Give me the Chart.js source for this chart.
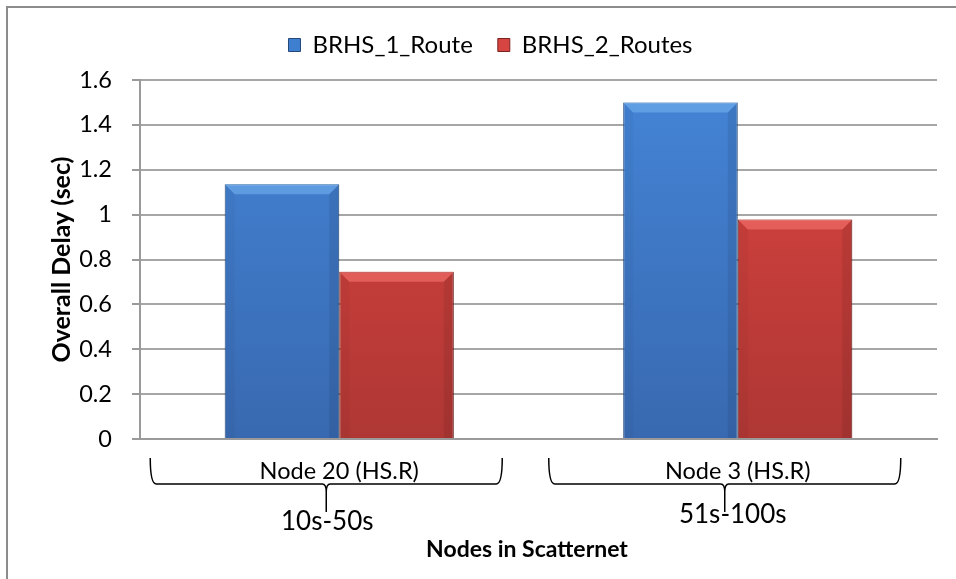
<!DOCTYPE html>
<html>
<head>
<meta charset="utf-8">
<script src="https://cdn.jsdelivr.net/npm/chart.js@4.4.1/dist/chart.umd.min.js"></script>
<style>
html,body{margin:0;padding:0;background:#fff;}
#wrap{width:956px;height:579px;position:relative;}
</style>
</head>
<body>
<div id="wrap"><canvas id="c" width="956" height="579"></canvas></div>
<script>
const categories = ["Node 20 (HS.R)", "Node 3 (HS.R)"];
const timeRanges = ["10s-50s", "51s-100s"];
const seriesNames = ["BRHS_1_Route", "BRHS_2_Routes"];
const route1 = [1.135, 1.50];
const route2 = [0.745, 0.978];
const yTicks = [0, 0.2, 0.4, 0.6, 0.8, 1, 1.2, 1.4, 1.6];
const xTitle = "Nodes in Scatternet";
const yTitle = "Overall Delay (sec)";

const FONT = "Lato, 'Open Sans', sans-serif";

function grad(ctx, chartArea, c1, c2) {
  const g = ctx.createLinearGradient(0, chartArea.top, 0, chartArea.bottom);
  g.addColorStop(0, c1);
  g.addColorStop(1, c2);
  return g;
}

const legendShift = {
  id: 'legendShift',
  beforeLayout(chart) {
    const lg = chart.legend;
    if (lg && !lg._patched) {
      const f = lg.fit.bind(lg);
      lg.fit = function () { f(); this.height += 13; };
      lg._patched = true;
    }
  },
  afterLayout(chart) {
    const lg = chart.legend;
    if (lg) { lg.left += 22; lg.right += 22; }
  }
};

const bevelPlugin = {
  id: 'bevel',
  afterDatasetsDraw(chart) {
    const ctx = chart.ctx;
    ctx.save();
    chart.data.datasets.forEach((d, di) => {
      const meta = chart.getDatasetMeta(di);
      meta.data.forEach((bar) => {
        const w = bar.width, L = bar.x - w / 2, R = bar.x + w / 2, T = bar.y, B = bar.base;
        const b = 10;
        ctx.fillStyle = di === 0 ? 'rgba(125,185,245,0.5)' : 'rgba(255,125,120,0.5)';
        ctx.beginPath();
        ctx.moveTo(L, T); ctx.lineTo(R, T); ctx.lineTo(R - b, T + b); ctx.lineTo(L + b, T + b); ctx.closePath();
        ctx.fill();
        ctx.fillStyle = 'rgba(0,0,0,0.03)';
        ctx.beginPath();
        ctx.moveTo(L, T); ctx.lineTo(L + b, T + b); ctx.lineTo(L + b, B); ctx.lineTo(L, B); ctx.closePath();
        ctx.fill();
        ctx.fillStyle = 'rgba(0,0,0,0.08)';
        ctx.beginPath();
        ctx.moveTo(R, T); ctx.lineTo(R - b, T + b); ctx.lineTo(R - b, B); ctx.lineTo(R, B); ctx.closePath();
        ctx.fill();
      });
    });
    ctx.restore();
  }
};

const bracePlugin = {
  id: 'braces',
  afterDraw(chart) {
    const ctx = chart.ctx;
    const xs = chart.scales.x;
    ctx.save();
    ctx.strokeStyle = '#8c8c8c';
    ctx.lineWidth = 2;
    ctx.beginPath();
    ctx.moveTo(7, 600);
    ctx.lineTo(7, 7);
    ctx.lineTo(1000, 7);
    ctx.stroke();

    ctx.strokeStyle = '#000';
    ctx.lineWidth = 1.5;
    categories.forEach((c, i) => {
      const cx = xs.getPixelForValue(i) - 13;
      const half = 176;
      const L = cx - half, R = cx + half;
      const top = 458, bot = 484, stem = 512;
      ctx.beginPath();
      ctx.moveTo(L, top);
      ctx.quadraticCurveTo(L, bot, L + 6, bot);
      ctx.lineTo(cx - 4, bot);
      ctx.quadraticCurveTo(cx, bot, cx, bot + 8);
      ctx.lineTo(cx, stem);
      ctx.moveTo(cx, bot + 8);
      ctx.quadraticCurveTo(cx, bot, cx + 4, bot);
      ctx.lineTo(R - 6, bot);
      ctx.quadraticCurveTo(R, bot, R, top);
      ctx.stroke();
      ctx.fillStyle = '#000';
      ctx.font = "26px " + FONT;
      ctx.textAlign = 'center';
      ctx.textBaseline = 'middle';
      ctx.fillText(timeRanges[i], cx + (i === 0 ? 1 : 8), i === 0 ? 522 : 515);
    });
    ctx.font = "bold 23px " + FONT;
    ctx.textAlign = 'center';
    ctx.textBaseline = 'middle';
    ctx.fillText(xTitle, 527, 550);
    ctx.restore();
  }
};

new Chart(document.getElementById('c'), {
  type: 'bar',
  data: {
    labels: categories,
    datasets: [
      {
        label: seriesNames[0],
        data: route1,
        backgroundColor: (c) => {
          const a = c.chart.chartArea;
          if (!a) return '#3f7fd0';
          return grad(c.chart.ctx, a, '#4484d6', '#3869b0');
        },
        borderColor: '#2a4f80',
        borderWidth: 1
      },
      {
        label: seriesNames[1],
        data: route2,
        backgroundColor: (c) => {
          const a = c.chart.chartArea;
          if (!a) return '#d64541';
          return grad(c.chart.ctx, a, '#dc4440', '#ae3734');
        },
        borderColor: '#6e2120',
        borderWidth: 1
      }
    ]
  },
  options: {
    responsive: false,
    animation: false,
    layout: { padding: { top: 8, right: 19, left: 0, bottom: 0 } },
    datasets: { bar: { categoryPercentage: 0.575, barPercentage: 1.0 } },
    plugins: {
      legend: {
        position: 'top',
        labels: {
          font: { family: FONT, size: 24 },
          color: '#000',
          boxWidth: 12,
          boxHeight: 13,
          padding: 25,
          generateLabels(chart) {
            return chart.data.datasets.map((d, i) => ({
              text: d.label,
              fillStyle: i === 0 ? '#3f7fd0' : '#d64541',
              strokeStyle: i === 0 ? '#24497a' : '#7a2220',
              lineWidth: 1,
              datasetIndex: i
            }));
          }
        }
      },
      tooltip: { enabled: false }
    },
    scales: {
      x: {
        grid: { display: false, drawTicks: false },
        border: { color: '#9a9a9a', width: 2 },
        ticks: { color: '#000', font: { family: FONT, size: 23.5 }, padding: 18 },
        afterFit(s) { s.height = 579 - 439; }
      },
      y: {
        min: 0, max: 1.6,
        afterBuildTicks(s) { s.ticks = yTicks.map(v => ({ value: v })); },
        grid: { color: '#a6a6a6', lineWidth: 2, tickLength: 8, tickColor: '#9a9a9a' },
        border: { color: '#9a9a9a', width: 2 },
        ticks: { color: '#000', font: { family: FONT, size: 23.5 }, padding: 20,
          callback: (v) => String(v) },
        title: {
          display: true,
          text: yTitle,
          color: '#000',
          font: { family: FONT, size: 25, weight: 'bold' },
          padding: { top: 47, bottom: 0 }
        },
        afterFit(s) { s.width = 140; }
      }
    }
  },
  plugins: [legendShift, bevelPlugin, bracePlugin]
});
</script>
</body>
</html>
